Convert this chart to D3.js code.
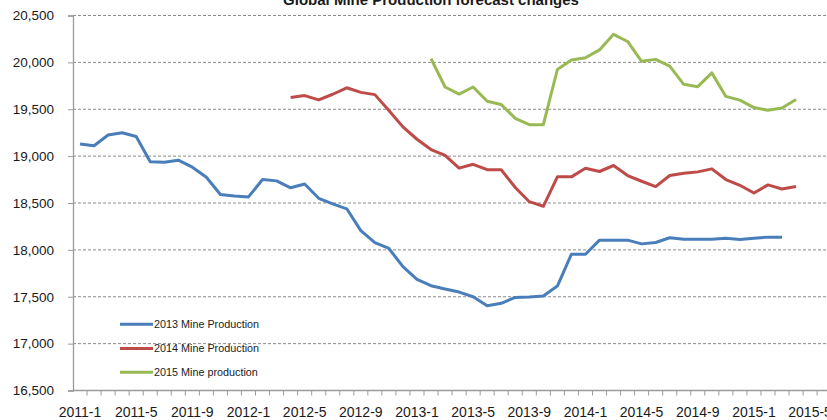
<!DOCTYPE html>
<html>
<head>
<meta charset="utf-8">
<script src="https://cdn.jsdelivr.net/npm/d3@7"></script>
<style>
  html, body { margin: 0; padding: 0; background: #fff; }
  svg { display: block; }
  text { font-family: "Liberation Sans", Arial, sans-serif; fill: #1a1a1a; }
</style>
</head>
<body>
<div id="chart"></div>
<script>
// ---------- data ----------
const categories = [
  "2011-1","2011-2","2011-3","2011-4","2011-5","2011-6","2011-7","2011-8","2011-9","2011-10","2011-11","2011-12",
  "2012-1","2012-2","2012-3","2012-4","2012-5","2012-6","2012-7","2012-8","2012-9","2012-10","2012-11","2012-12",
  "2013-1","2013-2","2013-3","2013-4","2013-5","2013-6","2013-7","2013-8","2013-9","2013-10","2013-11","2013-12",
  "2014-1","2014-2","2014-3","2014-4","2014-5","2014-6","2014-7","2014-8","2014-9","2014-10","2014-11","2014-12",
  "2015-1","2015-2","2015-3","2015-4","2015-5","2015-6","2015-7","2015-8"
];
const tickLabels = ["2011-1","2011-5","2011-9","2012-1","2012-5","2012-9","2013-1","2013-5","2013-9","2014-1","2014-5","2014-9","2015-1","2015-5"];
const yTicks = [16500, 17000, 17500, 18000, 18500, 19000, 19500, 20000, 20500];

const seriesNames = ["2013 Mine Production", "2014 Mine Production", "2015 Mine production"];
const seriesStart = ["2011-1", "2012-4", "2013-2"];

const production2013 = [19130, 19110, 19225, 19250, 19210, 18940, 18935, 18957, 18882, 18775, 18590, 18575,
  18565, 18750, 18736, 18662, 18703, 18550, 18490, 18438, 18205, 18078, 18015, 17821,
  17686, 17618, 17582, 17550, 17500, 17405, 17430, 17493, 17497, 17507, 17614, 17954,
  17954, 18104, 18104, 18104, 18064, 18079, 18129, 18114, 18114, 18114, 18125, 18111,
  18125, 18136, 18136];
const production2014 = [19625, 19646, 19600, 19660, 19729, 19680, 19656, 19486, 19312, 19180, 19070, 19007,
  18872, 18913, 18855, 18855, 18665, 18514, 18465, 18779, 18779, 18870, 18836, 18900,
  18793, 18732, 18675, 18793, 18818, 18832, 18864, 18750, 18689, 18607, 18693, 18650, 18675];
const production2015 = [20040, 19737, 19662, 19737, 19586, 19550, 19403, 19335, 19335, 19924, 20025, 20050,
  20133, 20299, 20223, 20011, 20032, 19960, 19766, 19741, 19888, 19637, 19597, 19518,
  19489, 19514, 19604];

const title = "Global Mine Production forecast changes";
const colors = ["#4A7EBB", "#BE4B48", "#98B954"];

// ---------- layout ----------
const W = 827, H = 420;
const plotLeft = 73, plotTop = 15.5, plotBottom = 390.5;
const step = 14.04;

const svg = d3.select("#chart").append("svg").attr("width", W).attr("height", H);

const x = d3.scaleBand().domain(categories).range([plotLeft, plotLeft + categories.length * step]).paddingInner(0).paddingOuter(0);
const y = d3.scaleLinear().domain([16500, 20500]).range([plotBottom, plotTop]);
const xRight = plotLeft + categories.length * step;

// gridlines
svg.append("g").selectAll("line").data(yTicks.slice(1)).join("line")
  .attr("x1", plotLeft).attr("x2", xRight)
  .attr("y1", d => y(d)).attr("y2", d => y(d))
  .attr("stroke", "#8a8a8a").attr("stroke-width", 1).attr("stroke-dasharray", "3,2");

// y axis
const yAxis = d3.axisLeft(y).tickValues(yTicks).tickFormat(d3.format(",")).tickSize(5).tickPadding(14);
const gy = svg.append("g").attr("transform", `translate(${plotLeft},0)`).call(yAxis);
gy.select(".domain").attr("stroke", "#9a9a9a").attr("stroke-width", 1.3);
gy.selectAll(".tick line").attr("stroke", "#9a9a9a");
gy.selectAll("text").style("font-size", "13.5px").style("font-family", "'Liberation Sans', Arial, sans-serif").attr("fill", "#1a1a1a");

// x axis: tick marks at category boundaries
const boundaries = categories.map(c => x(c));
svg.append("line").attr("x1", plotLeft).attr("x2", xRight).attr("y1", plotBottom).attr("y2", plotBottom)
  .attr("stroke", "#9a9a9a").attr("stroke-width", 1.3);
svg.append("g").selectAll("line").data(boundaries.slice(1)).join("line")
  .attr("x1", d => d).attr("x2", d => d).attr("y1", plotBottom).attr("y2", plotBottom + 5)
  .attr("stroke", "#9a9a9a");
svg.append("g").selectAll("text").data(tickLabels).join("text")
  .attr("x", d => x(d) + x.bandwidth() / 2)
  .attr("y", 417)
  .attr("text-anchor", "middle")
  .style("font-size", "14px")
  .text(d => d);

// lines
const allSeries = [production2013, production2014, production2015];
const line = d3.line()
  .x(d => x(d.c) + x.bandwidth() / 2)
  .y(d => y(d.v));
allSeries.forEach((vals, si) => {
  const start = categories.indexOf(seriesStart[si]);
  const pts = vals.map((v, i) => ({ c: categories[start + i], v }));
  svg.append("path").datum(pts)
    .attr("d", line)
    .attr("fill", "none")
    .attr("stroke", colors[si])
    .attr("stroke-width", 3)
    .attr("stroke-linejoin", "round")
    .attr("stroke-linecap", "butt");
});

// legend
const legendY = [324.3, 348.5, 372.3];
const lg = svg.append("g");
seriesNames.forEach((name, i) => {
  lg.append("line").attr("x1", 120).attr("x2", 153).attr("y1", legendY[i]).attr("y2", legendY[i])
    .attr("stroke", colors[i]).attr("stroke-width", 3);
  lg.append("text").attr("x", 154).attr("y", legendY[i] + 3.8)
    .style("font-size", "10.8px").text(name);
});

// title (partly cut off at top)
svg.append("text").attr("x", 431).attr("y", 5)
  .attr("text-anchor", "middle")
  .style("font-size", "15px").style("font-weight", "bold")
  .text(title);
</script>
</body>
</html>
